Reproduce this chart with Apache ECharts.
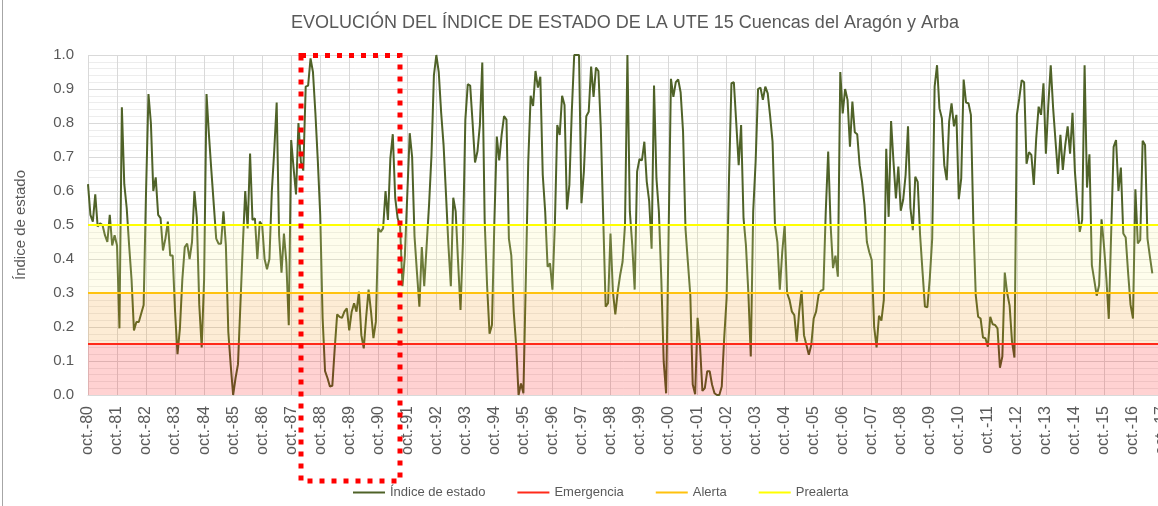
<!DOCTYPE html>
<html>
<head>
<meta charset="utf-8">
<script src="https://cdn.jsdelivr.net/npm/echarts@6/dist/echarts.min.js"></script>
<style>
html,body{margin:0;padding:0;background:#fff;}
#chart{width:1158px;height:506px;}
</style>
</head>
<body>
<div id="chart"></div>
<script>
// Monthly index values starting oct-80 (one row per hydrological year, oct..sep)
var indice = [
0.62,0.53,0.51,0.59,0.495,0.505,0.50,0.47,0.45,0.53,0.44,0.47,
0.44,0.196,0.846,0.62,0.55,0.44,0.34,0.19,0.215,0.215,0.24,0.265,
0.60,0.885,0.80,0.60,0.64,0.53,0.52,0.425,0.46,0.51,0.41,0.41,
0.245,0.12,0.196,0.34,0.435,0.445,0.40,0.45,0.60,0.52,0.265,0.14,
0.34,0.885,0.765,0.66,0.56,0.46,0.445,0.445,0.54,0.44,0.186,0.088,
0.0,0.05,0.09,0.265,0.44,0.60,0.49,0.71,0.515,0.52,0.40,0.51,
0.50,0.40,0.37,0.40,0.60,0.72,0.86,0.47,0.36,0.475,0.39,0.205,
0.75,0.667,0.59,0.80,0.686,0.66,0.907,0.91,0.99,0.95,0.83,0.69,
0.53,0.225,0.07,0.05,0.025,0.027,0.137,0.237,0.23,0.227,0.245,0.255,
0.19,0.245,0.27,0.245,0.304,0.176,0.137,0.23,0.31,0.245,0.167,0.215,
0.49,0.48,0.49,0.60,0.515,0.696,0.767,0.58,0.52,0.50,0.32,0.41,
0.59,0.77,0.70,0.465,0.36,0.26,0.435,0.32,0.44,0.56,0.705,0.94,
1.0,0.95,0.83,0.735,0.59,0.44,0.32,0.58,0.54,0.39,0.25,0.45,
0.81,0.914,0.91,0.80,0.684,0.716,0.794,0.978,0.51,0.32,0.18,0.206,
0.51,0.76,0.69,0.765,0.82,0.81,0.46,0.41,0.245,0.147,0.0,0.034,
0.005,0.34,0.686,0.88,0.85,0.953,0.904,0.936,0.647,0.54,0.377,0.387,
0.31,0.50,0.794,0.765,0.88,0.853,0.546,0.618,0.833,1.0,1.0,1.0,
0.564,0.657,0.82,0.833,0.966,0.877,0.963,0.953,0.784,0.52,0.26,0.27,
0.475,0.304,0.237,0.304,0.353,0.392,0.50,1.0,0.54,0.44,0.31,0.657,
0.694,0.69,0.745,0.627,0.57,0.43,0.91,0.637,0.54,0.343,0.098,0.005,
0.46,0.93,0.877,0.92,0.928,0.89,0.775,0.49,0.39,0.294,0.031,0.002,
0.227,0.147,0.012,0.02,0.07,0.07,0.03,0.005,0.0,0.0,0.025,0.167,
0.284,0.637,0.917,0.92,0.80,0.676,0.794,0.52,0.44,0.30,0.113,0.54,
0.686,0.90,0.904,0.868,0.907,0.887,0.82,0.745,0.50,0.45,0.31,0.42,
0.50,0.30,0.28,0.245,0.235,0.157,0.245,0.307,0.176,0.147,0.118,0.147,
0.225,0.245,0.294,0.307,0.31,0.54,0.716,0.50,0.373,0.41,0.348,0.95,
0.828,0.90,0.868,0.73,0.863,0.773,0.767,0.676,0.627,0.56,0.45,0.42,
0.397,0.20,0.14,0.233,0.219,0.28,0.724,0.524,0.806,0.686,0.578,0.672,
0.542,0.574,0.647,0.79,0.55,0.485,0.642,0.627,0.47,0.363,0.26,0.258,
0.343,0.46,0.907,0.97,0.843,0.814,0.676,0.632,0.804,0.858,0.79,0.824,
0.576,0.637,0.928,0.86,0.858,0.824,0.51,0.294,0.23,0.225,0.169,0.167,
0.142,0.23,0.208,0.206,0.196,0.08,0.113,0.36,0.30,0.263,0.157,0.11,
0.824,0.873,0.926,0.92,0.68,0.714,0.706,0.618,0.755,0.848,0.824,0.917,
0.71,0.853,0.97,0.843,0.745,0.65,0.765,0.662,0.735,0.79,0.71,0.83,
0.657,0.56,0.48,0.515,0.97,0.61,0.708,0.382,0.338,0.292,0.323,0.517,
0.44,0.343,0.224,0.48,0.73,0.75,0.60,0.669,0.475,0.463,0.358,0.265,
0.225,0.605,0.446,0.456,0.748,0.735,0.46,0.407,0.358
];

// Year tick labels (one every 12 months)
var tickLabels = ['oct.-80','oct.-81','oct.-82','oct.-83','oct.-84','oct.-85','oct.-86','oct.-87','oct.-88','oct.-89',
'oct.-90','oct.-91','oct.-92','oct.-93','oct.-94','oct.-95','oct.-96','oct.-97','oct.-98','oct.-99',
'oct.-00','oct.-01','oct.-02','oct.-03','oct.-04','oct.-05','oct.-06','oct.-07','oct.-08','oct.-09',
'oct.-10','oct.-11','oct.-12','oct.-13','oct.-14','oct.-15','oct.-16','oct.-17'];

// Thresholds
var umbralEmergencia = 0.15;
var umbralAlerta = 0.30;
var umbralPrealerta = 0.50;

var seriesNames = ['Índice de estado','Emergencia','Alerta','Prealerta'];
var titulo = 'EVOLUCIÓN DEL ÍNDICE DE ESTADO DE LA UTE 15 Cuencas del Aragón y Arba';
var yName = 'Índice de estado';

var xMax = (tickLabels.length - 1) * 12;
var FONT = '"Liberation Sans", Arial, sans-serif';
var TXT = '#595959';

function flat(v){ return [[0, v],[xMax, v]]; }

var chart = echarts.init(document.getElementById('chart'), null, {renderer:'canvas'});
chart.setOption({
  animation: false,
  backgroundColor: '#ffffff',
  textStyle: {fontFamily: FONT},
  grid: {left: 88, top: 55, width: 1074, height: 340, containLabel: false, outerBoundsMode: 'none'},
  graphic: [
    {type:'line', shape:{x1:2.5,y1:0,x2:2.5,y2:506}, style:{stroke:'#A6A6A6', lineWidth:1}, z:100},
    {type:'text', x:625, y:23, style:{text:titulo, fill:TXT, font:'18px ' + FONT, align:'center', verticalAlign:'middle'}, z:100},
    {type:'rect', shape:{x:301, y:55.5, width:99, height:425.5}, style:{fill:'none', stroke:'#FF0000', lineWidth:5, lineDash:[5,7]}, z:100}
  ],
  legend: {
    left: 348, top: 481,
    data: seriesNames,
    icon: 'rect',
    itemWidth: 32, itemHeight: 2, itemGap: 32,
    textStyle: {color: TXT, fontSize: 13, fontFamily: FONT}
  },
  xAxis: {
    type: 'value', min: 0, max: xMax, interval: 12,
    axisLine: {show: true, onZero: false, lineStyle: {color: '#D9D9D9', width: 1}},
    axisTick: {show: false},
    splitLine: {show: true, lineStyle: {color: '#D9D9D9', width: 1}},
    axisLabel: {
      rotate: 90, margin: 11, color: TXT, fontSize: 16, fontFamily: FONT,
      formatter: function(v){ return tickLabels[Math.round(v/12)] || ''; }
    }
  },
  yAxis: {
    type: 'value', min: 0, max: 1, interval: 0.1,
    name: yName, nameLocation: 'middle', nameGap: 60, nameRotate: 90,
    nameTextStyle: {color: TXT, fontSize: 15, fontFamily: FONT},
    axisLine: {show: false}, axisTick: {show: false},
    splitLine: {show: true, lineStyle: {color: '#D9D9D9', width: 1}},
    minorTick: {show: false, splitNumber: 5},
    minorSplitLine: {show: true, lineStyle: {color: '#EDEDED', width: 1}},
    axisLabel: {color: TXT, fontSize: 15, margin: 14, fontFamily: FONT,
      formatter: function(v){ return v.toFixed(1); }}
  },
  series: [
    {
      name: seriesNames[0], type: 'line', z: 2,
      data: indice.map(function(v, i){ return [i, v]; }),
      symbol: 'none', showSymbol: false,
      lineStyle: {color: '#4F6228', width: 2},
      itemStyle: {color: '#4F6228'}
    },
    // translucent bands drawn above the index line
    {type:'line', z: 3, silent: true, data: flat(umbralEmergencia), symbol:'none',
      lineStyle:{width:0, opacity:0}, areaStyle:{color:'rgba(255,0,0,0.25)', origin: 0}},
    {type:'line', z: 3, silent: true, data: flat(umbralAlerta), symbol:'none',
      lineStyle:{width:0, opacity:0}, areaStyle:{color:'rgba(243,147,19,0.25)', origin: umbralEmergencia}},
    {type:'line', z: 3, silent: true, data: flat(umbralPrealerta), symbol:'none',
      lineStyle:{width:0, opacity:0}, areaStyle:{color:'rgba(250,245,150,0.25)', origin: umbralAlerta}},
    {name: seriesNames[1], type:'line', z: 4, data: flat(umbralEmergencia), symbol:'none',
      lineStyle:{color:'#FF2A1A', width:2}, itemStyle:{color:'#FF2A1A'}},
    {name: seriesNames[2], type:'line', z: 4, data: flat(umbralAlerta), symbol:'none',
      lineStyle:{color:'#FFC20E', width:2}, itemStyle:{color:'#FFC20E'}},
    {name: seriesNames[3], type:'line', z: 4, data: flat(umbralPrealerta), symbol:'none',
      lineStyle:{color:'#FFFF00', width:2}, itemStyle:{color:'#FFFF00'}}
  ]
});
</script>
</body>
</html>
